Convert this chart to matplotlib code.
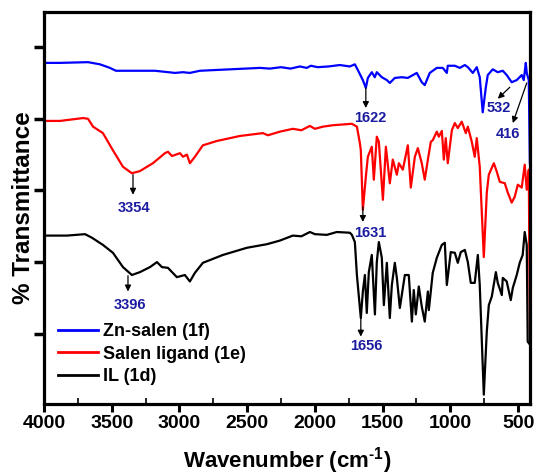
import matplotlib
matplotlib.use("Agg")
import matplotlib.pyplot as plt
from matplotlib.ticker import MultipleLocator, FixedLocator

plt.rcParams['font.family'] = ['Liberation Sans', 'DejaVu Sans']
plt.rcParams['font.weight'] = 'bold'
plt.rcParams['mathtext.fontset'] = 'custom'
plt.rcParams['mathtext.rm'] = 'Liberation Sans:bold'
plt.rcParams['mathtext.bf'] = 'Liberation Sans:bold'
plt.rcParams['mathtext.default'] = 'bf'

# ---- data (wavenumber cm^-1, offset transmittance, arbitrary units) ----
zn_wn = [4000, 3882, 3675, 3587, 3513, 3469, 3365, 3181, 3033, 2974, 2923, 2849, 2627,
         2406, 2332, 2250, 2180, 2111, 2060, 2030, 1980, 1900, 1816, 1742, 1705, 1683, 1646,
         1624, 1609, 1580, 1558, 1543, 1506, 1469, 1447, 1410, 1358, 1314, 1248, 1211,
         1189, 1152, 1100, 1056, 1026, 1019, 967, 930, 893, 871, 834, 805, 783, 761,
         738, 724, 687, 650, 613, 584, 547, 510, 473, 458, 443, 436, 421, 413]
zn_t = [4.78, 4.78, 4.79, 4.76, 4.71, 4.67, 4.67, 4.67, 4.64, 4.65, 4.64, 4.67, 4.69,
        4.71, 4.70, 4.72, 4.70, 4.73, 4.71, 4.74, 4.72, 4.73, 4.75, 4.73, 4.76, 4.68, 4.54,
        4.43, 4.57, 4.65, 4.58, 4.65, 4.58, 4.54, 4.50, 4.57, 4.58, 4.57, 4.64, 4.51,
        4.47, 4.64, 4.71, 4.71, 4.64, 4.74, 4.74, 4.71, 4.75, 4.72, 4.64, 4.72, 4.58, 4.09,
        4.44, 4.61, 4.69, 4.65, 4.67, 4.61, 4.51, 4.54, 4.61, 4.54, 4.78, 4.64, 4.54, 3.38]

salen_wn = [4000, 3882, 3712, 3675, 3638, 3565, 3491, 3417, 3351, 3292, 3196, 3107, 3085,
            3055, 2996, 2974, 2945, 2923, 2886, 2827, 2724, 2554, 2384, 2347, 2259, 2163,
            2100, 2037, 2000, 1941, 1867, 1727, 1690, 1668, 1661, 1646, 1624, 1609, 1580,
            1565, 1543, 1528, 1498, 1476, 1447, 1425, 1395, 1380, 1351, 1314, 1292, 1262,
            1240, 1211, 1189, 1166, 1144, 1130, 1100, 1085, 1063, 1048, 1034, 1019, 989,
            967, 945, 916, 886, 871, 842, 820, 805, 783, 753, 731, 716, 679, 657, 635,
            598, 576, 547, 525, 502, 473, 451, 436, 421, 413]
salen_t = [3.97, 3.97, 4.01, 4.00, 3.89, 3.80, 3.56, 3.33, 3.24, 3.27, 3.38, 3.52, 3.54,
           3.48, 3.52, 3.47, 3.50, 3.38, 3.47, 3.63, 3.69, 3.76, 3.80, 3.77, 3.82, 3.86,
           3.84, 3.90, 3.86, 3.89, 3.91, 3.93, 3.89, 3.66, 3.56, 2.73, 3.19, 3.47, 3.61,
           3.15, 3.75, 3.68, 2.87, 3.61, 3.10, 3.43, 3.22, 3.38, 3.29, 3.63, 3.04, 3.47,
           3.59, 3.38, 3.15, 3.43, 3.68, 3.70, 3.82, 3.75, 3.83, 3.43, 3.73, 3.38, 3.84,
           3.94, 3.87, 3.96, 3.80, 3.89, 3.68, 3.47, 3.73, 3.33, 2.07, 2.97, 3.22, 3.38,
           3.26, 3.12, 3.10, 2.97, 2.83, 2.91, 3.08, 3.04, 3.36, 3.01, 3.29, 1.03]

il_wn = [4000, 3830, 3697, 3646, 3565, 3491, 3417, 3351, 3292, 3218, 3166, 3129, 3085,
         3019, 2960, 2923, 2886, 2827, 2679, 2502, 2354, 2259, 2163, 2100, 2037, 2000,
         1912, 1838, 1742, 1727, 1705, 1690, 1661, 1646, 1631, 1617, 1602, 1580, 1557,
         1543, 1528, 1506, 1491, 1469, 1447, 1432, 1410, 1395, 1373, 1336, 1307, 1284,
         1270, 1255, 1233, 1211, 1189, 1166, 1159, 1130, 1100, 1063, 1041, 1026, 997,
         967, 945, 923, 893, 871, 849, 820, 797, 783, 753, 731, 716, 694, 664, 650,
         620, 613, 584, 554, 539, 510, 488, 466, 451, 436, 429, 413]
il_t = [2.37, 2.37, 2.39, 2.34, 2.24, 2.13, 1.93, 1.82, 1.86, 1.93, 2.00, 1.93, 1.92,
        1.79, 1.82, 1.73, 1.85, 1.99, 2.10, 2.20, 2.25, 2.30, 2.37, 2.36, 2.42, 2.39,
        2.38, 2.42, 2.41, 2.38, 2.28, 1.82, 1.22, 1.59, 1.82, 1.29, 1.86, 2.10, 1.27,
        2.00, 2.28, 2.06, 1.40, 1.99, 1.22, 1.68, 1.99, 1.78, 1.36, 1.82, 1.82, 1.17,
        1.61, 1.27, 1.66, 1.38, 1.17, 1.59, 1.33, 1.85, 2.06, 2.24, 2.27, 1.68, 2.14,
        2.13, 1.99, 2.14, 2.17, 2.00, 1.71, 1.71, 2.10, 1.68, 0.15, 1.03, 1.40, 1.52,
        1.86, 1.71, 1.54, 1.78, 1.73, 1.47, 1.64, 1.82, 1.99, 2.10, 2.42, 2.24, 0.89, 0.85]

series_labels = ['Zn-salen (1f)', 'Salen ligand (1e)', 'IL (1d)']
series_colors = ['#0000ff', '#ff0000', '#000000']

# peak annotations: label, arrow tip, arrow start, text position
peak_labels = ['3354', '3396', '1622', '532', '416', '1631', '1656']
arrow_tip = [(3343, 2.94), (3380, 1.59), (1624, 4.15), (650, 4.28), (539, 3.94), (1646, 2.56), (1661, 0.96)]
arrow_start = [(3343, 3.22), (3380, 1.81), (1624, 4.43), (561, 4.44), (436, 4.50), (1646, 2.77), (1661, 1.22)]
text_pos = [(3336, 2.76), (3365, 1.40), (1594, 4.01), (643, 4.15), (576, 3.79), (1594, 2.41), (1617, 0.83)]

xticks = [4000, 3500, 3000, 2500, 2000, 1500, 1000, 500]

fig = plt.figure(figsize=(5.35, 4.75), dpi=100)
ax = fig.add_axes([44/535, 71/475, 486/535, 392/475])

for wn, t, lab, col in zip([zn_wn, salen_wn, il_wn], [zn_t, salen_t, il_t], series_labels, series_colors):
    ax.plot(wn, t, color=col, lw=1.6, label=lab, solid_joinstyle='round')

for lab, tip, st, tp in zip(peak_labels, arrow_tip, arrow_start, text_pos):
    ax.annotate('', xy=tip, xytext=st,
                arrowprops=dict(arrowstyle='-|>', color='black', lw=0.9,
                                mutation_scale=9, shrinkA=0, shrinkB=0))
    ax.text(tp[0], tp[1], lab, color='#1c1ca0', fontsize=10.5, fontweight='bold',
            ha='center', va='center')

ax.set_xlim(4000, 412)
ax.set_ylim(0.02, 5.49)
ax.xaxis.set_major_locator(FixedLocator(xticks))
ax.xaxis.set_minor_locator(MultipleLocator(250))
ax.set_yticks([1, 2, 3, 4, 5])
ax.set_yticklabels([])
ax.tick_params(axis='x', which='major', direction='out', length=6, width=2.2,
               labelsize=14, pad=2)
ax.tick_params(axis='x', which='minor', direction='in', length=4, width=1.2)
ax.tick_params(axis='y', which='major', direction='out', length=7, width=2.5)
for lbl in ax.get_xticklabels():
    lbl.set_fontweight('bold')
for sp in ax.spines.values():
    sp.set_linewidth(2.3)

ax.set_xlabel('Wavenumber (cm$^{\\text{-}1}$)', fontsize=16, fontweight='bold', labelpad=9)
ax.set_ylabel('% Transmittance', fontsize=17.5, fontweight='bold', labelpad=-4)

leg = ax.legend(loc='upper left', bbox_to_anchor=(0.029, 0.206), frameon=False,
                fontsize=13, handlelength=2.2, handletextpad=0.3, labelspacing=0.3,
                borderaxespad=0, borderpad=0)
for t in leg.get_texts():
    t.set_fontweight('bold')
for h in leg.get_lines():
    h.set_linewidth(2)

fig.savefig('out.png', dpi=100)
